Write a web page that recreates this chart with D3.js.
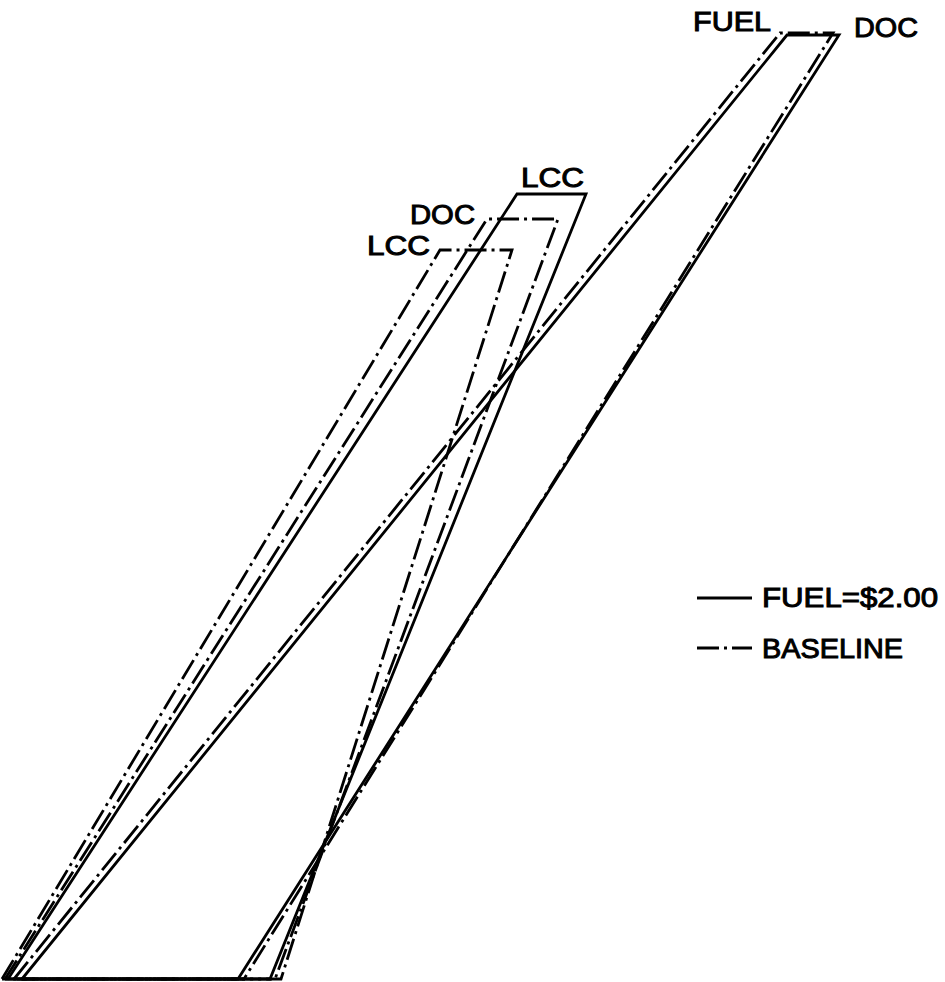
<!DOCTYPE html>
<html>
<head>
<meta charset="utf-8">
<script src="https://cdn.jsdelivr.net/npm/d3@7"></script>
<style>
  body { margin: 0; background: #fff; }
  .wing { fill: none; stroke: #000; stroke-width: 2.8; stroke-linejoin: miter; }
  .baseline { stroke-dasharray: 22,5,3,5; }
  text { font-family: "Liberation Sans", Arial, Helvetica, sans-serif; font-size: 27px; fill: #000; stroke: #000; stroke-width: 1; }
</style>
</head>
<body>
<div id="planform"></div>
<script>
// wing planforms: [chordwise x, spanwise y] in ft, root LE -> tip LE -> tip TE -> root TE
const fuelBaseline = [[1.4, 0], [78.0, 94.6], [83.3, 94.6], [24.4, 0]];
const fuelDoc2     = [[2.2, 0], [78.7, 94.4], [83.9, 94.4], [23.8, 0]];
const lcc2         = [[0.8, 0], [51.7, 78.5], [58.6, 78.5], [27.0, 0]];
const docBaseline  = [[0.5, 0], [48.7, 76.0], [55.8, 76.0], [27.5, 0]];
const lccBaseline  = [[0.2, 0], [44.0, 72.9], [51.2, 72.9], [28.1, 0]];

const wings = [
  {pts: fuelBaseline, style: 'baseline'},
  {pts: fuelDoc2,     style: 'fuel2'},
  {pts: lcc2,         style: 'fuel2'},
  {pts: docBaseline,  style: 'baseline'},
  {pts: lccBaseline,  style: 'baseline'}
];

// tip labels: text, x of left edge, y of baseline (ft), width (ft)
const labelText = ['FUEL', 'DOC', 'LCC', 'DOC', 'LCC'];
const labelX    = [69.3, 85.4, 52.1, 41.0, 36.7];
const labelY    = [94.8, 94.2, 79.2, 75.5, 72.4];
const labelW    = [7.8, 6.4, 6.3, 6.5, 6.3];

const legendText = ['FUEL=$2.00', 'BASELINE'];
const legendStyle = ['fuel2', 'baseline'];

const width = 945,
      height = 982;

// 10 px per ft, root chord at the bottom
const x = d3.scaleLinear().domain([0, 94.5]).range([0, width]);
const y = d3.scaleLinear().domain([0, 97.9]).range([979, 0]);

const svg = d3.select('#planform').append('svg')
    .attr('width', width)
    .attr('height', height);

const line = d3.line()
  .x(function(d) { return x(d[0]); })
  .y(function(d) { return y(d[1]); });

svg.selectAll('path.wing')
  .data(wings)
  .enter().append('path')
    .attr('class', function(d) { return 'wing ' + d.style; })
    .attr('d', function(d) { return line(d.pts.concat([d.pts[0]])); });

svg.selectAll('text.tip')
  .data(labelText)
  .enter().append('text')
    .attr('class', 'tip')
    .attr('x', function(d, i) { return x(labelX[i]); })
    .attr('y', function(d, i) { return y(labelY[i]); })
    .attr('textLength', function(d, i) { return x(labelW[i]) - x(0); })
    .attr('lengthAdjust', 'spacingAndGlyphs')
    .text(function(d) { return d; });

// legend
const legend = svg.append('g')
  .attr('transform', 'translate(697,598)');

legend.selectAll('line')
  .data(legendText)
  .enter().append('line')
    .attr('class', function(d, i) { return 'wing ' + legendStyle[i]; })
    .attr('x1', 0)
    .attr('x2', 55)
    .attr('y1', function(d, i) { return i * 50; })
    .attr('y2', function(d, i) { return i * 50; });

legend.selectAll('text')
  .data(legendText)
  .enter().append('text')
    .attr('x', 65)
    .attr('y', function(d, i) { return 9 + i * 51; })
    .attr('textLength', function(d, i) { return i === 0 ? 176 : 141; })
    .attr('lengthAdjust', 'spacingAndGlyphs')
    .text(function(d) { return d; });
</script>
</body>
</html>
